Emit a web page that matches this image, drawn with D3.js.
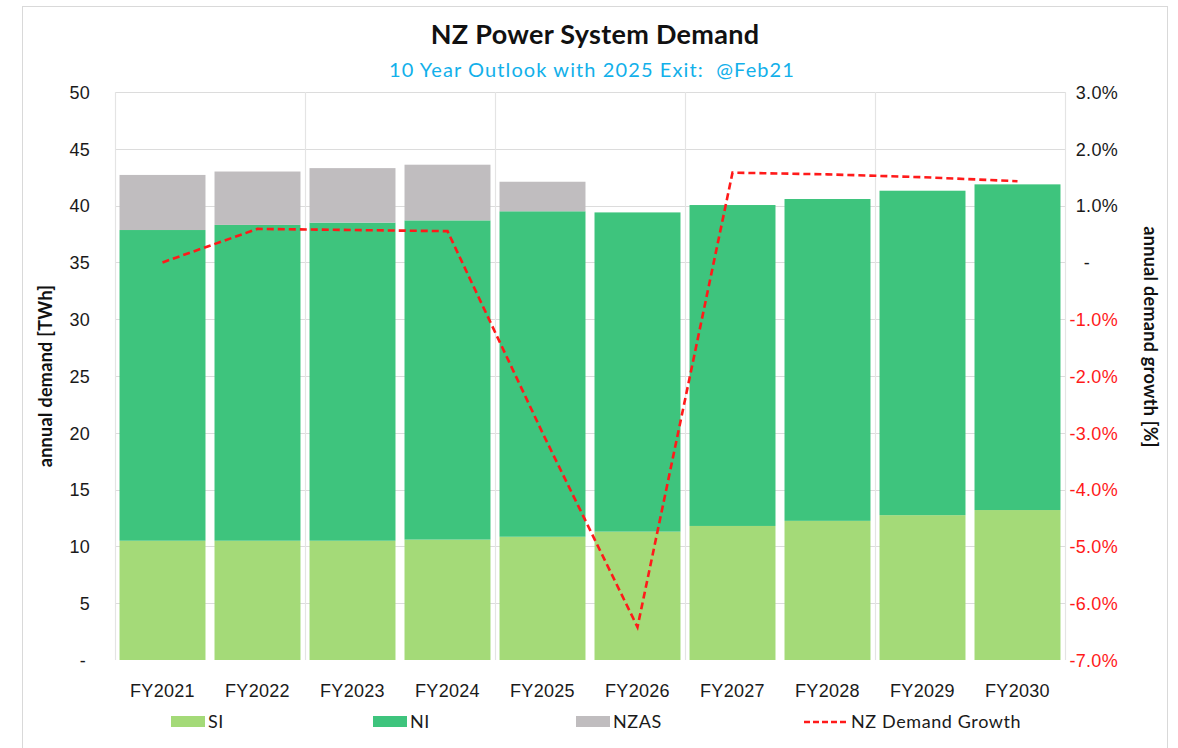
<!DOCTYPE html>
<html>
<head>
<meta charset="utf-8">
<script src="https://cdn.jsdelivr.net/npm/d3@7"></script>
<style>
  html, body { margin: 0; padding: 0; background: #fff; }
  svg { display: block; font-family: Lato, "Open Sans", sans-serif; }
</style>
</head>
<body>
<svg id="chart" width="1178" height="748"></svg>
<script>
// Annual demand by island (TWh) and total demand growth (%)
const categories = ["FY2021","FY2022","FY2023","FY2024","FY2025","FY2026","FY2027","FY2028","FY2029","FY2030"];
const siDemand   = [10.5, 10.5, 10.5, 10.6, 10.85, 11.3, 11.8, 12.25, 12.75, 13.2];
const niDemand   = [27.35, 27.8, 28.0, 28.1, 28.65, 28.1, 28.25, 28.33, 28.56, 28.67];
const nzasDemand = [4.85, 4.7, 4.8, 4.9, 2.6, 0, 0, 0, 0, 0];
const growthPct  = [0.0, 0.59, 0.57, 0.55, -3.0, -6.42, 1.58, 1.55, 1.5, 1.43];
const leftTicks  = [0, 5, 10, 15, 20, 25, 30, 35, 40, 45, 50];
const rightTicks = [3, 2, 1, 0, -1, -2, -3, -4, -5, -6, -7];

const seriesNames = ["SI", "NI", "NZAS"];
const colors = { SI: "#a4da78", NI: "#3ec47d", NZAS: "#c0bdbf", line: "#ff1a1a" };

const svg = d3.select("#chart");

// outer frame
svg.append("rect").attr("x", 22.5).attr("y", 6.5).attr("width", 1145).attr("height", 742)
  .attr("fill", "none").attr("stroke", "#d9d9d9").attr("stroke-width", 1);

const plot = { left: 115, right: 1065, top: 92, bottom: 660 };

const x = d3.scaleBand().domain(categories).range([plot.left, plot.right])
  .paddingInner(0.095).paddingOuter(0.0475);
const yL = d3.scaleLinear().domain([0, 50]).range([plot.bottom, plot.top]);
const yR = d3.scaleLinear().domain([-7, 3]).range([plot.bottom, plot.top]);

// horizontal gridlines
svg.append("g").selectAll("line").data(leftTicks.filter(d => d > 0)).join("line")
  .attr("x1", plot.left).attr("x2", plot.right)
  .attr("y1", d => Math.round(yL(d)) + 0.5).attr("y2", d => Math.round(yL(d)) + 0.5)
  .attr("stroke", "#dcdcdc").attr("stroke-width", 1.2);

// vertical gridlines every second category
const step = x.step();
const vGrid = d3.range(0, categories.length + 1, 2).map(i => plot.left + i * step);
svg.append("g").selectAll("line").data(vGrid).join("line")
  .attr("x1", d => Math.round(d) + 0.5).attr("x2", d => Math.round(d) + 0.5)
  .attr("y1", plot.top).attr("y2", plot.bottom)
  .attr("stroke", "#e4e4e4").attr("stroke-width", 1.2);

// stacked bars
const rows = categories.map((c, i) => ({ cat: c, SI: siDemand[i], NI: niDemand[i], NZAS: nzasDemand[i] }));
const stacked = d3.stack().keys(seriesNames)(rows);
svg.append("g").selectAll("g").data(stacked).join("g")
  .attr("fill", d => colors[d.key])
  .selectAll("rect").data(d => d.filter(p => p[1] - p[0] > 0)).join("rect")
  .attr("x", d => x(d.data.cat))
  .attr("width", x.bandwidth())
  .attr("y", d => yL(d[1]))
  .attr("height", d => yL(d[0]) - yL(d[1]));

// growth line (right axis)
const line = d3.line().x((d, i) => x(categories[i]) + x.bandwidth() / 2).y(d => yR(d));
svg.append("path").datum(growthPct)
  .attr("d", line).attr("fill", "none")
  .attr("stroke", colors.line).attr("stroke-width", 2.6)
  .attr("stroke-dasharray", "7,4");

const labelStyle = sel => sel.attr("font-size", 18).attr("letter-spacing", 0.3).attr("dy", "0.35em");

// left axis
const leftAxis = d3.axisLeft(yL).tickValues(leftTicks).tickSize(0).tickPadding(0)
  .tickFormat(d => d === 0 ? "-" : d);
const gL = svg.append("g").attr("transform", `translate(${plot.left - 25},0)`).call(leftAxis);
gL.select(".domain").remove();
gL.selectAll("text").call(labelStyle).attr("fill", "#1a1a1a")
  .attr("dx", d => d === 0 ? -4 : 0);

// right axis
const pct = d3.format(".1f");
const rightAxis = d3.axisRight(yR).tickValues(rightTicks).tickSize(0).tickPadding(0)
  .tickFormat(d => d === 0 ? "-" : pct(d).replace("\u2212", "-") + "%");
const gR = svg.append("g").attr("transform", `translate(${plot.right + 53},0)`).call(rightAxis);
gR.select(".domain").remove();
gR.selectAll("text").call(labelStyle)
  .attr("text-anchor", "end")
  .attr("x", d => d === 0 ? -28 : 0)
  .attr("fill", d => d < 0 ? "#ff1a1a" : "#1a1a1a");

// category axis
const bottomAxis = d3.axisBottom(x).tickSize(0).tickPadding(0);
const gB = svg.append("g").attr("transform", `translate(0,${plot.bottom + 31})`).call(bottomAxis);
gB.select(".domain").remove();
gB.selectAll("text").call(labelStyle).attr("fill", "#1a1a1a");

// titles
svg.append("text").attr("x", 595).attr("y", 44).attr("text-anchor", "middle")
  .attr("font-size", 27).attr("font-weight", "bold").attr("fill", "#111")
  .attr("letter-spacing", 0.3)
  .text("NZ Power System Demand");
svg.append("text").attr("x", 592).attr("y", 77).attr("text-anchor", "middle")
  .attr("font-size", 20).attr("fill", "#12b0ea").attr("letter-spacing", 1.1)
  .attr("xml:space", "preserve")
  .text("10 Year Outlook with 2025 Exit:  @Feb21");

svg.append("text").attr("transform", "translate(52,376) rotate(-90)").attr("text-anchor", "middle")
  .attr("font-size", 18).attr("font-weight", "bold").attr("fill", "#111").attr("letter-spacing", 0.3)
  .text("annual demand [TWh]");
svg.append("text").attr("transform", "translate(1144,337) rotate(90)").attr("text-anchor", "middle")
  .attr("font-size", 18).attr("font-weight", "bold").attr("fill", "#111").attr("letter-spacing", 0.3)
  .text("annual demand growth [%]");

// legend
const legendY = 722;
const legendItems = [
  { name: "SI", type: "rect", x: 171 },
  { name: "NI", type: "rect", x: 373 },
  { name: "NZAS", type: "rect", x: 576 },
  { name: "NZ Demand Growth", type: "line", x: 804 }
];
const lg = svg.append("g");
legendItems.forEach(it => {
  if (it.type === "rect") {
    lg.append("rect").attr("x", it.x).attr("y", legendY - 6).attr("width", 34).attr("height", 11)
      .attr("fill", colors[it.name]);
  } else {
    lg.append("line").attr("x1", it.x).attr("x2", it.x + 44).attr("y1", legendY).attr("y2", legendY)
      .attr("stroke", colors.line).attr("stroke-width", 2.4).attr("stroke-dasharray", "6,3");
  }
  lg.append("text").attr("x", it.x + (it.type === "rect" ? 37 : 47)).attr("y", legendY)
    .call(labelStyle).attr("letter-spacing", 0.6).attr("fill", "#1a1a1a").text(it.name);
});
</script>
</body>
</html>
